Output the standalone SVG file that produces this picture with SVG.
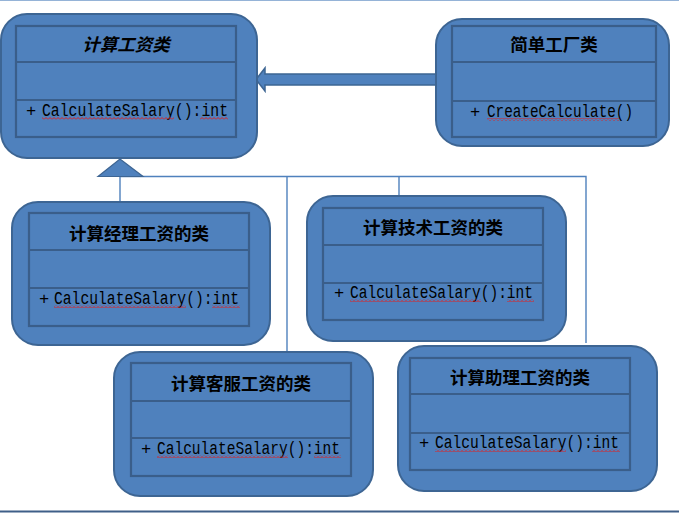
<svg xmlns="http://www.w3.org/2000/svg" width="679" height="513" viewBox="0 0 679 513">
<style>
.outer{fill:#4f81bd;stroke:#3d6593;stroke-width:2}
.inner{fill:none;stroke:#3a5e8a;stroke-width:2.2}
.div{stroke:#3a5e8a;stroke-width:2}
.title{font-family:"Noto Sans CJK SC","Noto Sans CJK TC",sans-serif;font-size:17.5px;font-weight:700;fill:#000;text-anchor:middle}
.meth{font-family:"Liberation Mono","DejaVu Sans Mono",monospace;font-size:18px;fill:#000}
.plus{font-family:"Liberation Mono","DejaVu Sans Mono",monospace;font-size:17px;fill:#000}
.conn{stroke:#4f81bd;stroke-width:1.4;fill:none}
.wave{fill:url(#zig)}
</style>
<defs>
<pattern id="zig" width="4" height="3" patternUnits="userSpaceOnUse">
<polyline points="0,2.5 2,0.5 4,2.5" fill="none" stroke="#e02020" stroke-width="1"/>
</pattern>
</defs>
<rect x="0" y="0" width="679" height="513" fill="#ffffff"/>
<line x1="0" y1="0.5" x2="679" y2="0.5" stroke="#95b3d7" stroke-width="1.2"/>
<line x1="0" y1="511.5" x2="679" y2="511.5" stroke="#3f5f88" stroke-width="2.2"/>

<g id="connectors">
<polyline class="conn" points="120,202 120,176.5 586,176.5 586,343"/>
<line class="conn" x1="287" y1="176.5" x2="287" y2="352"/>
<line class="conn" x1="399" y1="176.5" x2="399" y2="196"/>
<polygon points="98,176.5 120,159 143,176.5" fill="#4f81bd" stroke="#3d6593" stroke-width="1.2"/>
<polygon points="256,79.5 265,68 265,74 437,74 437,85 265,85 265,91" fill="#4f81bd" stroke="#3d6593" stroke-width="1.5"/>
</g>

<g id="node-calc">
<rect class="outer" x="1" y="14" width="256" height="144" rx="26"/>
<rect class="inner" x="16" y="26" width="220" height="111"/>
<line class="div" x1="16" y1="62" x2="236" y2="62"/>
<line class="div" x1="16" y1="100" x2="236" y2="100"/>
<text class="title" x="126" y="51" font-style="italic" font-weight="500">计算工资类</text>
<text class="plus" x="26" y="116">+</text>
<text class="meth" x="42" y="116" textLength="186" lengthAdjust="spacingAndGlyphs">CalculateSalary():int</text>
<rect class="wave" x="42" y="117" width="132" height="3"/>
<rect class="wave" x="200" y="117" width="28" height="3"/>
</g>

<g id="node-factory">
<rect class="outer" x="436" y="19" width="233" height="127" rx="26"/>
<rect class="inner" x="452" y="26" width="204" height="111"/>
<line class="div" x1="452" y1="62" x2="656" y2="62"/>
<line class="div" x1="452" y1="101" x2="656" y2="101"/>
<text class="title" x="554" y="51" font-weight="500">简单工厂类</text>
<text class="plus" x="470" y="117">+</text>
<text class="meth" x="487" y="117" textLength="146" lengthAdjust="spacingAndGlyphs">CreateCalculate()</text>
<rect class="wave" x="487" y="118" width="132" height="3"/>
</g>

<g id="node-manager">
<rect class="outer" x="12" y="202" width="258" height="143" rx="26"/>
<rect class="inner" x="29" y="213" width="220" height="113"/>
<line class="div" x1="29" y1="250" x2="249" y2="250"/>
<line class="div" x1="29" y1="288" x2="249" y2="288"/>
<text class="title" x="139" y="240">计算经理工资的类</text>
<text class="plus" x="39" y="304">+</text>
<text class="meth" x="54" y="304" textLength="185" lengthAdjust="spacingAndGlyphs">CalculateSalary():int</text>
<rect class="wave" x="54" y="305" width="132" height="3"/>
<rect class="wave" x="212" y="305" width="28" height="3"/>
</g>

<g id="node-tech">
<rect class="outer" x="307" y="196" width="259" height="145" rx="26"/>
<rect class="inner" x="323" y="208" width="220" height="112"/>
<line class="div" x1="323" y1="245" x2="543" y2="245"/>
<line class="div" x1="323" y1="283" x2="543" y2="283"/>
<text class="title" x="433" y="234">计算技术工资的类</text>
<text class="plus" x="334" y="298">+</text>
<text class="meth" x="350" y="298" textLength="183" lengthAdjust="spacingAndGlyphs">CalculateSalary():int</text>
<rect class="wave" x="350" y="299" width="131" height="3"/>
<rect class="wave" x="507" y="299" width="27" height="3"/>
</g>

<g id="node-service">
<rect class="outer" x="114" y="352" width="259" height="144" rx="26"/>
<rect class="inner" x="131" y="363" width="220" height="113"/>
<line class="div" x1="131" y1="401" x2="351" y2="401"/>
<line class="div" x1="131" y1="438" x2="351" y2="438"/>
<text class="title" x="241" y="390">计算客服工资的类</text>
<text class="plus" x="141" y="454">+</text>
<text class="meth" x="157" y="454" textLength="183" lengthAdjust="spacingAndGlyphs">CalculateSalary():int</text>
<rect class="wave" x="157" y="455" width="131" height="3"/>
<rect class="wave" x="314" y="455" width="27" height="3"/>
</g>

<g id="node-assistant">
<rect class="outer" x="398" y="346" width="259" height="145" rx="26"/>
<rect class="inner" x="410" y="358" width="220" height="112"/>
<line class="div" x1="410" y1="394" x2="630" y2="394"/>
<line class="div" x1="410" y1="433" x2="630" y2="433"/>
<text class="title" x="520" y="384">计算助理工资的类</text>
<text class="plus" x="419" y="448">+</text>
<text class="meth" x="435" y="448" textLength="184" lengthAdjust="spacingAndGlyphs">CalculateSalary():int</text>
<rect class="wave" x="435" y="449" width="131" height="3"/>
<rect class="wave" x="592" y="449" width="28" height="3"/>
</g>
</svg>
